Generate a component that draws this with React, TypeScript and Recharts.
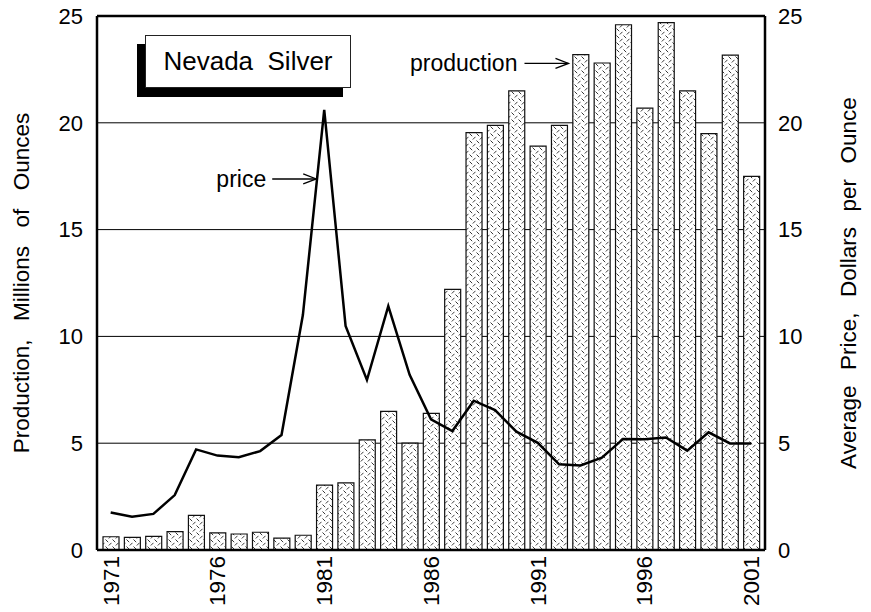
import {
  ComposedChart,
  Bar,
  Line,
  XAxis,
  YAxis,
  CartesianGrid,
  ReferenceLine,
  ReferenceDot,
} from 'recharts'

const years = [
  '1971', '1972', '1973', '1974', '1975', '1976', '1977', '1978', '1979', '1980',
  '1981', '1982', '1983', '1984', '1985', '1986', '1987', '1988', '1989', '1990',
  '1991', '1992', '1993', '1994', '1995', '1996', '1997', '1998', '1999', '2000', '2001',
]

// millions of ounces
const production = [
  0.62, 0.59, 0.64, 0.86, 1.62, 0.8, 0.75, 0.83, 0.56, 0.69,
  3.04, 3.14, 5.16, 6.49, 5.0, 6.4, 12.2, 19.54, 19.88, 21.49,
  18.91, 19.88, 23.19, 22.8, 24.59, 20.69, 24.69, 21.49, 19.49, 23.17, 17.49,
]

// dollars per ounce
const price = [
  1.76, 1.56, 1.69, 2.57, 4.71, 4.42, 4.34, 4.63, 5.38, 11.0,
  20.6, 10.49, 7.96, 11.42, 8.2, 6.12, 5.57, 6.99, 6.55, 5.54,
  5.02, 4.01, 3.96, 4.32, 5.2, 5.18, 5.27, 4.65, 5.51, 4.99, 4.99,
]

const valueTicks = [0, 5, 10, 15, 20, 25]

const data = years.map((year, i) => ({ year, production: production[i], price: price[i] }))

const FONT = '"Liberation Sans", Arial, sans-serif'

function YearTick({ x, y, payload }: any) {
  return (
    <text
      x={x}
      y={y}
      transform={`rotate(-90 ${x} ${y})`}
      textAnchor="end"
      dy="0.35em"
      fontSize={22.5}
      fontFamily={FONT}
      fill="#000"
    >
      {payload.value}
    </text>
  )
}

function Arrow({ tipX, y, len }: { tipX: number; y: number; len: number }) {
  return (
    <g stroke="#000" strokeWidth={1.3} fill="none">
      <line x1={tipX - len} y1={y} x2={tipX} y2={y} />
      <polyline points={`${tipX - 13},${y - 5} ${tipX},${y} ${tipX - 13},${y + 5}`} />
    </g>
  )
}

function PriceNote({ cx, cy }: any) {
  const tip = cx - 8
  return (
    <g>
      <Arrow tipX={tip} y={cy} len={44} />
      <text x={tip - 50} y={cy} dy="0.35em" textAnchor="end" fontSize={23} fontFamily={FONT} fill="#000">
        price
      </text>
    </g>
  )
}

function ProductionNote({ cx, cy }: any) {
  const tip = cx - 12
  return (
    <g>
      <Arrow tipX={tip} y={cy} len={44} />
      <text x={tip - 51} y={cy} dy="0.35em" textAnchor="end" fontSize={23} fontFamily={FONT} fill="#000">
        production
      </text>
    </g>
  )
}

function AxisTitle({ viewBox, value, dx, spacing }: any) {
  const x = viewBox.x + dx
  const y = viewBox.y + viewBox.height / 2
  return (
    <text
      x={x}
      y={y}
      transform={`rotate(-90 ${x} ${y})`}
      textAnchor="middle"
      dy="0.35em"
      fontSize={22.5}
      fontFamily={FONT}
      fill="#000"
      style={{ whiteSpace: 'pre', wordSpacing: spacing }}
    >
      {value}
    </text>
  )
}

export default function App() {
  return (
    <div style={{ position: 'absolute', left: 0, top: 0, width: 871, height: 612, background: '#fff' }}>
      <ComposedChart
        width={871}
        height={612}
        data={data}
        margin={{ top: 16, right: 0, bottom: 2, left: 0 }}
        barSize={16}
      >
        <defs>
          <pattern id="weave" width="7" height="7" patternUnits="userSpaceOnUse">
            <rect width="7" height="7" fill="#fff" />
            <line x1="0.5" y1="0.5" x2="3.2" y2="3.2" stroke="#222" strokeWidth={0.9} />
            <line x1="3.8" y1="6.5" x2="6.5" y2="3.8" stroke="#222" strokeWidth={0.9} />
          </pattern>
        </defs>
        <CartesianGrid yAxisId="left" vertical={false} stroke="#000" strokeWidth={1} />
        <XAxis
          dataKey="year"
          interval={4}
          tickLine={false}
          tickMargin={0}
          padding={{ left: 3, right: 3 }}
          axisLine={{ stroke: '#000', strokeWidth: 2.5 }}
          tick={<YearTick />}
          height={60}
        />
        <YAxis
          yAxisId="left"
          domain={[0, 25]}
          ticks={valueTicks}
          allowDataOverflow
          width={97}
          tickLine={false}
          tickMargin={8}
          axisLine={{ stroke: '#000', strokeWidth: 2.5 }}
          tick={{ fontSize: 22, fill: '#000', fontFamily: FONT }}
          label={{
            value: 'Production,  Millions  of  Ounces',
            content: (p: any) => (
              <AxisTitle {...p} value="Production,  Millions  of  Ounces" dx={21} spacing="3px" />
            ),
          }}
        />
        <YAxis
          yAxisId="right"
          orientation="right"
          domain={[0, 25]}
          ticks={valueTicks}
          allowDataOverflow
          width={106}
          tickLine={false}
          tickMargin={7}
          axisLine={{ stroke: '#000', strokeWidth: 2.5 }}
          tick={{ fontSize: 22, fill: '#000', fontFamily: FONT }}
          label={{
            value: 'Average  Price,  Dollars  per  Ounce',
            content: (p: any) => (
              <AxisTitle {...p} value="Average  Price,  Dollars  per  Ounce" dx={83} spacing="1.5px" />
            ),
          }}
        />
        <ReferenceLine yAxisId="left" y={25} stroke="#000" strokeWidth={2.5} />
        <Bar
          yAxisId="left"
          dataKey="production"
          fill="url(#weave)"
          stroke="#111"
          strokeWidth={1.2}
          isAnimationActive={false}
        />
        <Line
          yAxisId="right"
          dataKey="price"
          type="linear"
          stroke="#000"
          strokeWidth={2.5}
          dot={false}
          isAnimationActive={false}
        />
        <ReferenceDot yAxisId="left" x="1981" y={17.37} shape={(p: any) => <PriceNote {...p} />} />
        <ReferenceDot yAxisId="left" x="1993" y={22.78} shape={(p: any) => <ProductionNote {...p} />} />
      </ComposedChart>
      <div
        style={{
          position: 'absolute',
          left: 145,
          top: 35,
          width: 206,
          height: 53,
          boxSizing: 'border-box',
          border: '1.5px solid #222',
          background: '#fff',
          boxShadow: '-8px 9px 0 #000',
          fontFamily: FONT,
          fontSize: 26,
          lineHeight: '50px',
          textAlign: 'center',
          whiteSpace: 'pre',
          color: '#000',
        }}
      >
        Nevada  Silver
      </div>
    </div>
  )
}
